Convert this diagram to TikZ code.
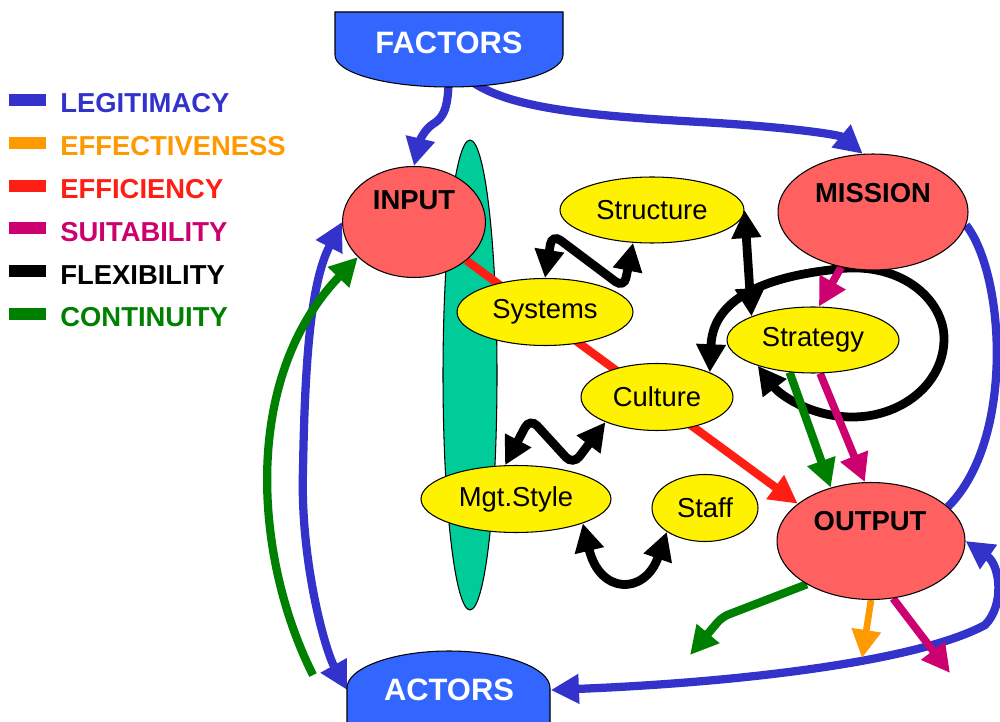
\documentclass[tikz,border=0pt]{standalone}
\usepackage{fontspec}
\setmainfont{Liberation Sans}
\usetikzlibrary{positioning,shapes.geometric,arrows.meta,backgrounds}

\definecolor{legitblue}{RGB}{51,51,204}
\definecolor{effectorange}{RGB}{255,153,0}
\definecolor{efficred}{RGB}{255,30,20}
\definecolor{suitmagenta}{RGB}{204,0,110}
\definecolor{contgreen}{RGB}{0,128,0}
\definecolor{salmon}{RGB}{255,96,96}
\definecolor{bandgreen}{RGB}{0,204,153}
\definecolor{shapeblue}{RGB}{51,102,255}

\tikzset{
  lbl/.style={font=\fontsize{15.6}{18}\selectfont, inner sep=0pt},
  bold/.style={font=\fontsize{15.6}{18}\selectfont\bfseries, inner sep=0pt},
  big/.style={font=\fontsize{17.6}{20}\selectfont\bfseries, inner sep=0pt, text=white},
  redell/.style={ellipse, draw, line width=0.6pt, fill=salmon, inner sep=0pt},
  yelell/.style={ellipse, draw, line width=0.6pt, fill=yellow, lbl},
  link/.style={line width=4.7pt},
  legit/.style={link, legitblue},
  effect/.style={link, line width=3.8pt, effectorange},
  effic/.style={link, efficred},
  suit/.style={link, line width=4.4pt, suitmagenta},
  flex/.style={link, line width=5pt, black},
  cont/.style={link, contgreen}
}

\begin{document}
\begin{tikzpicture}[x=0.02cm, y=-0.02cm, >={Triangle[length=16pt,width=16pt]}]
    \useasboundingbox (0,0) rectangle (1000,722);

    % legend
    \fill[legitblue] (9,94) rectangle (46,106);
    \node[bold, legitblue, anchor=base west] (legitimacy) at (60,113) {LEGITIMACY};
    \fill[effectorange] (9,137) rectangle (46,149);
    \node[bold, effectorange, anchor=base west] (effectiveness) at (60,156) {EFFECTIVENESS};
    \fill[efficred] (9,180) rectangle (46,192);
    \node[bold, efficred, anchor=base west] (efficiency) at (60,199) {EFFICIENCY};
    \fill[suitmagenta] (9,222) rectangle (46,234);
    \node[bold, suitmagenta, anchor=base west] (suitability) at (60,242) {SUITABILITY};
    \fill[black] (9,265) rectangle (46,277);
    \node[bold, black, anchor=base west] (flexibility) at (60,285) {FLEXIBILITY};
    \fill[contgreen] (9,308) rectangle (46,320);
    \node[bold, contgreen, anchor=base west] (continuity) at (60,327) {CONTINUITY};

    % factors and actors
    \draw[line width=0.6pt, fill=shapeblue] (335,12) -- (563,12) -- (563,55)
        .. controls (563,73) and (512,87) .. (449,87)
        .. controls (386,87) and (335,73) .. (335,55) -- cycle;
    \node[big] (factors) at (449,43) {FACTORS};
    \draw[line width=0.6pt, fill=shapeblue] (347,735) -- (347,688)
        .. controls (347,668) and (393,651) .. (449,651)
        .. controls (505,651) and (550,668) .. (550,688) -- (550,735) -- cycle;
    \node[big, minimum width=4.06cm, minimum height=1.56cm] (actors) at (449,690) {ACTORS};

    % main ellipses
    \node[redell, minimum width=2.86cm, minimum height=2.22cm] (input) at (414,222) {};
    \node[bold] (inputlbl) at (414,200) {INPUT};
    \node[redell, minimum width=3.8cm, minimum height=2.32cm] (mission) at (873,212) {};
    \node[bold] (missionlbl) at (873,193) {MISSION};
    \node[redell, minimum width=3.76cm, minimum height=2.34cm] (output) at (871,541) {};
    \node[bold] (outputlbl) at (870,521) {OUTPUT};

    \node[yelell, minimum width=3.68cm, minimum height=1.32cm] (structure) at (652,210) {Structure};
    \node[yelell, minimum width=3.52cm, minimum height=1.34cm] (systems) at (545,312) {Systems};
    \node[yelell, minimum width=3.44cm, minimum height=1.32cm] (strategy) at (813,340) {Strategy};
    \node[yelell, minimum width=3.04cm, minimum height=1.34cm] (culture) at (657,397) {Culture};
    \node[yelell, minimum width=3.8cm, minimum height=1.34cm] (mgtstyle) at (516,499) {Mgt.Style};
    \node[yelell, minimum width=2.12cm, minimum height=1.34cm] (staff) at (705,508) {Staff};

    \begin{pgfonlayer}{background}
    \node[ellipse, draw, line width=0.6pt, fill=bandgreen, inner sep=0pt,
          minimum width=1.08cm, minimum height=9.4cm] (band) at (470,375) {};
    \coordinate (gstart) at (313,675);
    \coordinate (gend) at (690,655);
    \coordinate (oend) at (862,658);
    \coordinate (send) at (950,673);

    % flexibility
    \draw[flex, <->] (structure.east) -- (strategy.159);
    \draw[flex, <->] (culture.25) .. controls (712,320) and (728,282) .. (830,270)
        .. controls (900,258) and (945,300) .. (944,340)
        .. controls (943,385) and (900,418) .. (850,417)
        .. controls (810,416) and (780,395) .. (strategy.205);
    \draw[flex, <->, rounded corners=6pt] (systems.north) -- (552,234) -- (624,288) -- (structure.-120);
    \draw[flex, <->, rounded corners=6pt] (mgtstyle.108) -- (530,418) -- (573,465) -- (culture.206);
    \draw[flex, <->] (mgtstyle.-20) .. controls (600,595) and (645,595) .. (staff.212);

    % legitimacy
    \draw[legit, ->] (factors.south) .. controls (449,100) and (448,115) .. (433,124)
        .. controls (425,129) and (420,140) .. (input.north);
    \draw[legit, ->] (factors.south) .. controls (470,105) and (560,114) .. (700,122)
        .. controls (790,127) and (840,135) .. (mission.100);
    \draw[legit] (mission.-8) .. controls (1005,275) and (1015,440) .. (output.24);
    \draw[legit, <->] (actors.east) .. controls (750,682) and (920,660) .. (985,625)
        .. controls (1005,605) and (1000,565) .. (output.east);
    \draw[legit, <->] (actors.west) .. controls (325,650) and (300,560) .. (303,470)
        .. controls (305,350) and (312,280) .. (input.west);

    % efficiency
    \draw[effic, ->] (input) -- (output.153);

    % continuity
    \draw[cont, ->] (gstart) .. controls (255,560) and (240,380) .. (input.212);
    \draw[cont, ->] (strategy.234) -- (output.127);
    \draw[cont, ->, rounded corners=4pt] (output.214) -- (722,617) -- (gend);

    % suitability
    \draw[suit, ->] (mission.240) -- (strategy.80);
    \draw[suit, ->] (strategy.-78) -- (output.96);
    \draw[suit, ->] (output.-69) -- (send);

    % effectiveness
    \draw[effect, ->] (output.south) -- (oend);
    \end{pgfonlayer}
\end{tikzpicture}
\end{document}
